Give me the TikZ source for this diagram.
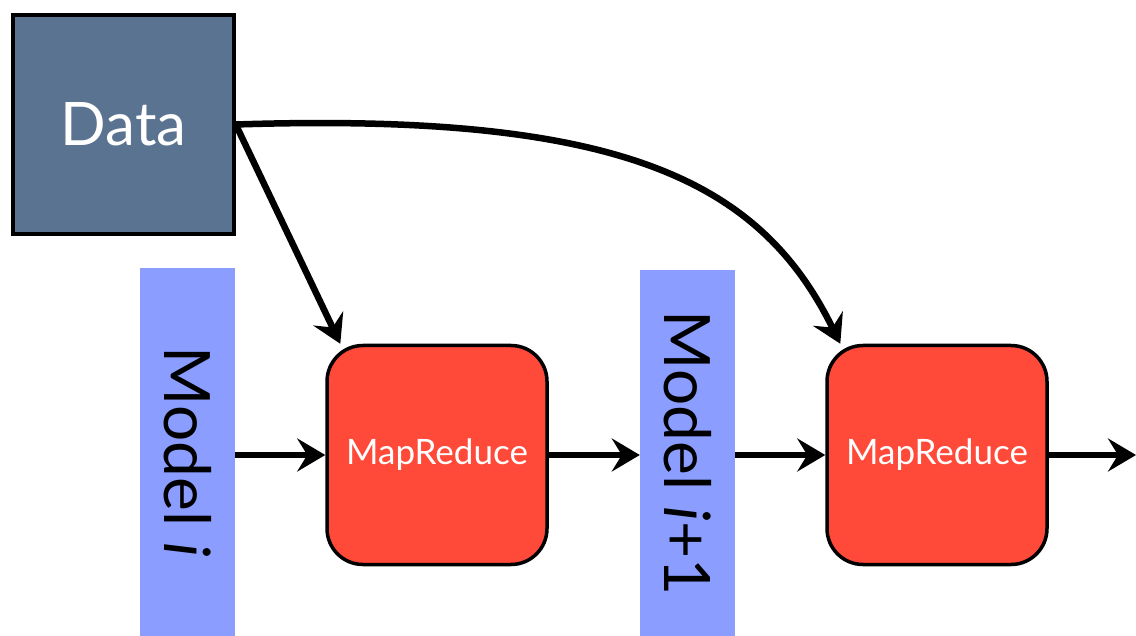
\documentclass[tikz,border=0pt]{standalone}
\usepackage{fontspec}
\setmainfont{Lato}
\usetikzlibrary{arrows.meta,calc}
\definecolor{databg}{RGB}{90,115,145}
\definecolor{modelbg}{RGB}{139,158,255}
\definecolor{mrbg}{RGB}{255,74,58}
\tikzset{
  databox/.style={draw=black,line width=3.5pt,fill=databg,minimum width=221pt,minimum height=219pt,inner sep=0pt,text=white,font=\fontsize{60}{66}\selectfont},
  modelbar/.style={fill=modelbg,minimum width=95pt,inner sep=0pt,text=black,rotate=-90,font=\fontsize{64}{70}\selectfont},
  mrbox/.style={draw=black,line width=3.5pt,fill=mrbg,rounded corners=36pt,minimum width=220pt,minimum height=219pt,inner sep=0pt,text=white,font=\fontsize{35}{40}\selectfont},
  conn/.style={line width=6.5pt,-{Stealth[length=28pt,width=33pt,inset=10pt]}}
}
\begin{document}
\begin{tikzpicture}[x=1pt,y=-1pt]
\useasboundingbox (0,0) rectangle (1136,636);
\fill[white] (0,0) rectangle (1136,636);
\node[databox] (data) at (123.5,124.5) {Data};
\node[modelbar,minimum width=368pt,minimum height=95pt] (m1) at (187.5,452) {Model \textit{i}};
\node[modelbar,minimum width=366pt,minimum height=95pt] (m2) at (687.5,453) {Model \textit{i}+1};
\node[mrbox] (mr1) at (437,455) {MapReduce};
\node[mrbox] (mr2) at (937,455) {MapReduce};
\coordinate (out) at (1136,455);
\draw[conn] (data.east) -- (mr1.131);
\draw[conn] (data.east) .. controls (620,112) and (760,180) .. (mr2.131);
\draw[conn] (m1.north |- mr1.west) -- (mr1.west);
\draw[conn] (mr1.east) -- (m2.south |- mr1.east);
\draw[conn] (m2.north |- mr2.west) -- (mr2.west);
\draw[conn] (mr2.east) -- (out);
\end{tikzpicture}
\end{document}
